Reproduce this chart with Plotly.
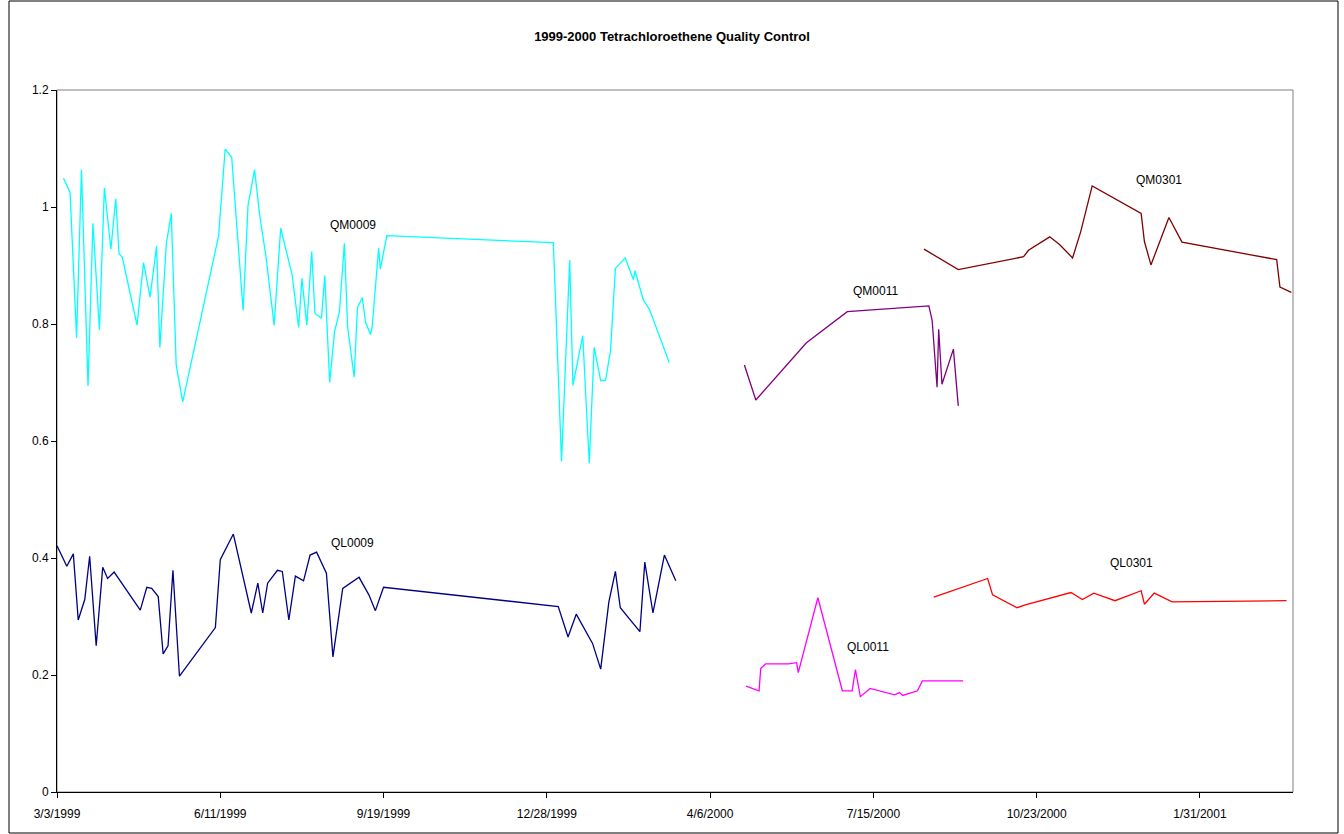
import plotly.graph_objects as go

# --- Quality-control sample series (date, concentration) ---
qm0009_dates = [
    "1999-03-07", "1999-03-11", "1999-03-15", "1999-03-18", "1999-03-22", "1999-03-25",
    "1999-03-29", "1999-04-01", "1999-04-05", "1999-04-08", "1999-04-10", "1999-04-12",
    "1999-04-21", "1999-04-25", "1999-04-29", "1999-05-03", "1999-05-05", "1999-05-09",
    "1999-05-12", "1999-05-15", "1999-05-19", "1999-06-10", "1999-06-14", "1999-06-18",
    "1999-06-25", "1999-06-28", "1999-07-02", "1999-07-05", "1999-07-09", "1999-07-14",
    "1999-07-18", "1999-07-25", "1999-07-29", "1999-07-31", "1999-08-03", "1999-08-06",
    "1999-08-08", "1999-08-12", "1999-08-14", "1999-08-17", "1999-08-20", "1999-08-23",
    "1999-08-26", "1999-08-28", "1999-09-01", "1999-09-03", "1999-09-06", "1999-09-08",
    "1999-09-11", "1999-09-12", "1999-09-16", "1999-09-17", "1999-09-21", "2000-01-01",
    "2000-01-06", "2000-01-11", "2000-01-13", "2000-01-19", "2000-01-23", "2000-01-26",
    "2000-01-30", "2000-02-02", "2000-02-05", "2000-02-08", "2000-02-14", "2000-02-19",
    "2000-02-20", "2000-02-25", "2000-02-29", "2000-03-12",
]
qm0009_values = [
    1.049, 1.025, 0.776, 1.064, 0.694, 0.972, 0.790, 1.033, 0.928, 1.014,
    0.920, 0.914, 0.798, 0.905, 0.846, 0.933, 0.760, 0.938, 0.989, 0.730,
    0.667, 0.951, 1.099, 1.085, 0.823, 1.003, 1.064, 0.989, 0.915, 0.798,
    0.964, 0.884, 0.794, 0.878, 0.798, 0.924, 0.818, 0.810, 0.883, 0.700,
    0.787, 0.821, 0.938, 0.795, 0.709, 0.828, 0.845, 0.803, 0.782, 0.794,
    0.930, 0.894, 0.951, 0.939, 0.565, 0.909, 0.695, 0.780, 0.562, 0.760,
    0.703, 0.704, 0.754, 0.895, 0.913, 0.876, 0.891, 0.842, 0.824, 0.734,
]

ql0009_dates = [
    "1999-03-03", "1999-03-09", "1999-03-13", "1999-03-16", "1999-03-20", "1999-03-23",
    "1999-03-27", "1999-03-31", "1999-04-03", "1999-04-07", "1999-04-23", "1999-04-27",
    "1999-04-30", "1999-05-04", "1999-05-07", "1999-05-10", "1999-05-13", "1999-05-17",
    "1999-06-08", "1999-06-11", "1999-06-19", "1999-06-30", "1999-07-04", "1999-07-07",
    "1999-07-10", "1999-07-16", "1999-07-19", "1999-07-23", "1999-07-27", "1999-08-01",
    "1999-08-05", "1999-08-09", "1999-08-15", "1999-08-19", "1999-08-25", "1999-09-04",
    "1999-09-10", "1999-09-14", "1999-09-19", "2000-01-04", "2000-01-10", "2000-01-15",
    "2000-01-25", "2000-01-30", "2000-02-04", "2000-02-08", "2000-02-11", "2000-02-23",
    "2000-02-26", "2000-03-02", "2000-03-09", "2000-03-16",
]
ql0009_values = [
    0.421, 0.386, 0.407, 0.294, 0.329, 0.403, 0.250, 0.384, 0.365, 0.376,
    0.311, 0.350, 0.348, 0.334, 0.236, 0.250, 0.379, 0.198, 0.281, 0.397,
    0.441, 0.306, 0.357, 0.306, 0.357, 0.379, 0.377, 0.294, 0.369, 0.361,
    0.405, 0.410, 0.374, 0.231, 0.348, 0.367, 0.337, 0.310, 0.350, 0.317,
    0.265, 0.304, 0.254, 0.210, 0.325, 0.377, 0.315, 0.274, 0.393, 0.306,
    0.405, 0.361,
]

qm0011_dates = [
    "2000-04-27", "2000-05-04", "2000-06-04", "2000-06-29", "2000-08-18", "2000-08-20",
    "2000-08-23", "2000-08-24", "2000-08-26", "2000-09-02", "2000-09-05",
]
qm0011_values = [0.730, 0.670, 0.768, 0.821, 0.831, 0.806, 0.692, 0.791, 0.697, 0.757, 0.660]

ql0011_dates = [
    "2000-04-28", "2000-05-06", "2000-05-07", "2000-05-10", "2000-05-24", "2000-05-29",
    "2000-05-30", "2000-06-11", "2000-06-26", "2000-07-02", "2000-07-04", "2000-07-07",
    "2000-07-13", "2000-07-28", "2000-07-31", "2000-08-02", "2000-08-11", "2000-08-14",
    "2000-09-08",
]
ql0011_values = [
    0.181, 0.173, 0.211, 0.219, 0.219, 0.221, 0.204, 0.332, 0.173, 0.173,
    0.209, 0.163, 0.177, 0.166, 0.170, 0.165, 0.173, 0.190, 0.190,
]

qm0301_dates = [
    "2000-08-15", "2000-09-05", "2000-10-15", "2000-10-18", "2000-10-31", "2000-11-06",
    "2000-11-14", "2000-11-19", "2000-11-26", "2000-12-26", "2000-12-28", "2001-01-01",
    "2001-01-12", "2001-01-20", "2001-03-19", "2001-03-21", "2001-03-28",
]
qm0301_values = [
    0.928, 0.893, 0.915, 0.926, 0.949, 0.936, 0.913, 0.958, 1.036, 0.989,
    0.941, 0.901, 0.982, 0.940, 0.910, 0.863, 0.854,
]

ql0301_dates = [
    "2000-08-21", "2000-09-23", "2000-09-26", "2000-10-11", "2000-10-16", "2000-11-13",
    "2000-11-20", "2000-11-27", "2000-12-10", "2000-12-26", "2000-12-28", "2001-01-03",
    "2001-01-14", "2001-03-21", "2001-03-25",
]
ql0301_values = [
    0.333, 0.365, 0.337, 0.315, 0.320, 0.341, 0.329, 0.340, 0.327, 0.344,
    0.321, 0.340, 0.325, 0.327, 0.327,
]

# Axis ticks: every 100 days from the first sample date
x_tick_dates = ["1999-03-03", "1999-06-11", "1999-09-19", "1999-12-28",
                "2000-04-06", "2000-07-15", "2000-10-23", "2001-01-31"]
x_tick_labels = ["3/3/1999", "6/11/1999", "9/19/1999", "12/28/1999",
                 "4/6/2000", "7/15/2000", "10/23/2000", "1/31/2001"]
y_ticks = [0, 0.2, 0.4, 0.6, 0.8, 1.0, 1.2]

series = [
    ("QM0009", qm0009_dates, qm0009_values, "#00FFFF"),
    ("QL0009", ql0009_dates, ql0009_values, "#000080"),
    ("QM0011", qm0011_dates, qm0011_values, "#800080"),
    ("QL0011", ql0011_dates, ql0011_values, "#FF00FF"),
    ("QM0301", qm0301_dates, qm0301_values, "#800000"),
    ("QL0301", ql0301_dates, ql0301_values, "#FF0000"),
]

# Series name labels placed near each line
labels = [
    ("QM0009", "1999-08-31", 0.969),
    ("QL0009", "1999-08-31", 0.426),
    ("QM0011", "2000-07-16", 0.856),
    ("QL0011", "2000-07-12", 0.248),
    ("QM0301", "2001-01-06", 1.046),
    ("QL0301", "2000-12-20", 0.391),
]

fig = go.Figure()
for name, xs, ys, color in series:
    fig.add_trace(go.Scatter(
        x=xs, y=ys, mode="lines", name=name,
        line=dict(color=color, width=1.3),
        showlegend=False,
    ))

for text, xd, yv in labels:
    fig.add_annotation(x=xd, y=yv, text=text, showarrow=False,
                       font=dict(family="Liberation Sans, Arial", size=12, color="#000000"))

font_family = "Liberation Sans, Arial, sans-serif"

fig.update_layout(
    width=1344, height=834,
    margin=dict(l=57, r=51, t=90, b=42),
    paper_bgcolor="white", plot_bgcolor="white",
    title=dict(text="<b>1999-2000 Tetrachloroethene Quality Control</b>",
               x=0.5, xanchor="center", y=1 - 36 / 834, yanchor="middle",
               yref="container",
               font=dict(family=font_family, size=13, color="#000000")),
    font=dict(family=font_family, size=12, color="#000000"),
    xaxis=dict(
        type="date", range=["1999-03-03", "2001-03-29"],
        tickvals=x_tick_dates, ticktext=x_tick_labels,
        showgrid=False, zeroline=False,
        showline=True, linecolor="#000000", linewidth=1,
        ticks="outside", ticklen=5, tickcolor="#000000",
        tickfont=dict(size=12), ticklabelstandoff=6,
    ),
    yaxis=dict(
        range=[0, 1.2], tickvals=y_ticks,
        ticktext=["0", "0.2", "0.4", "0.6", "0.8", "1", "1.2"],
        showgrid=False, zeroline=False,
        showline=True, linecolor="#000000", linewidth=1,
        ticks="outside", ticklen=5, tickcolor="#000000",
        tickfont=dict(size=12),
    ),
    shapes=[
        # plot-area frame (grey), drawn beneath the black axes
        dict(type="rect", xref="paper", yref="paper", x0=0, x1=1, y0=0, y1=1,
             line=dict(color="#808080", width=1), layer="below"),
        # outer chart border
        dict(type="rect", xref="paper", yref="paper",
             x0=(9 - 57) / 1236, x1=(1338 - 57) / 1236,
             y0=(792 - 833) / 702, y1=(792 - 1) / 702,
             line=dict(color="#000000", width=1)),
    ],
)

fig.write_html("out.html")
